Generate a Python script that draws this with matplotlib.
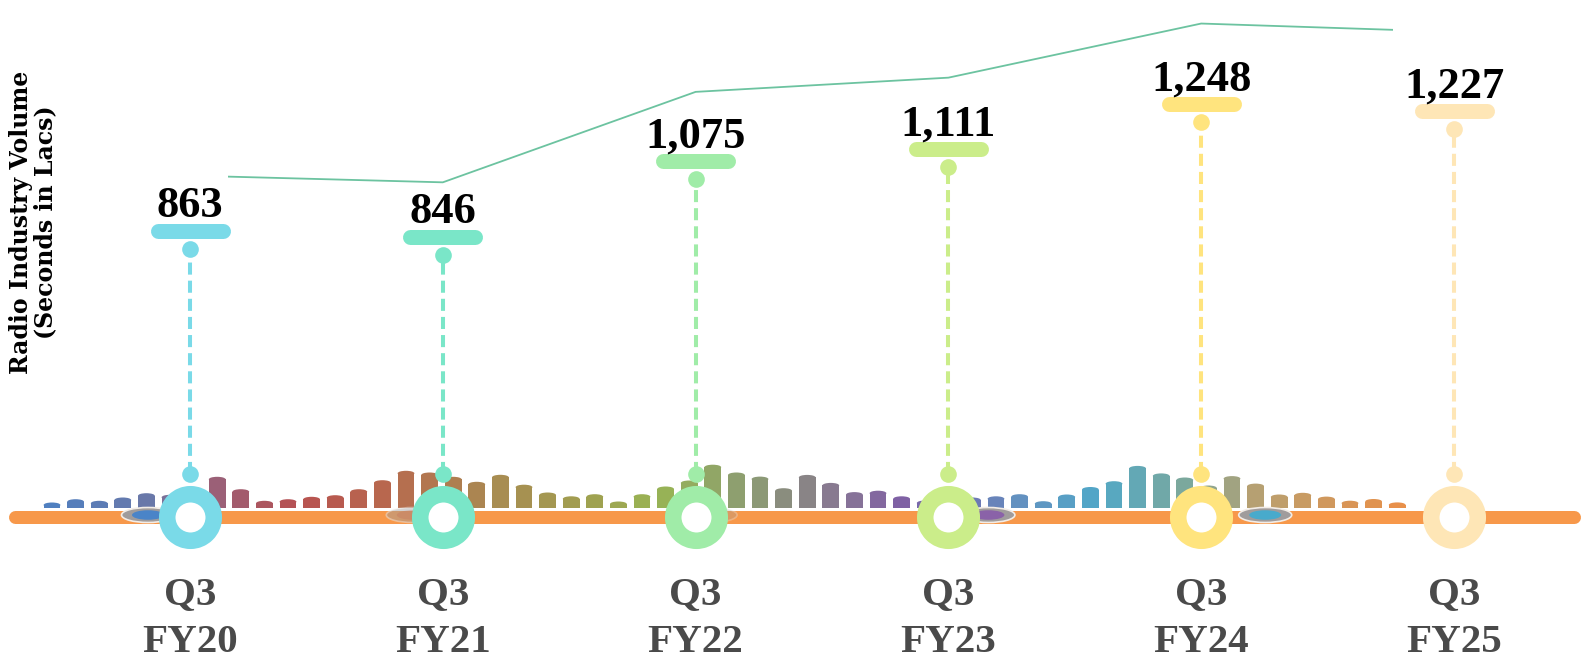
import numpy as np
import matplotlib
matplotlib.use("Agg")
import matplotlib.pyplot as plt
from matplotlib.patches import Ellipse, Rectangle
from matplotlib.colors import LinearSegmentedColormap

# ---------------- data ----------------
quarters = ["Q3", "Q3", "Q3", "Q3", "Q3", "Q3"]
fiscal_years = ["FY20", "FY21", "FY22", "FY23", "FY24", "FY25"]
volume = [863, 846, 1075, 1111, 1248, 1227]          # seconds in lacs
marker_colors = ["#7adae8", "#7ae6c8", "#a0eca8", "#cbed8a", "#ffe47e", "#fee6b6"]

# decorative equaliser strip along the timeline
eq_heights = [5, 8.3, 6.7, 10, 14.3, 12.7, 20, 30.7, 18.3, 6.7, 8.3, 10.7, 12.3, 18.3,
              27.3, 36.7, 35, 30.7, 25.7, 32.7, 22.8, 15, 11.2, 13.3, 6, 13.3, 21, 27,
              42.8, 35, 30.9, 19.3, 32.6, 24.6, 15.4, 16.8, 11.2, 7, 8, 10, 11.2, 13.3,
              6.3, 13, 20.5, 26.3, 41.6, 34.1, 30, 22, 31.4, 23.9, 13, 14.7, 10.9, 6.8,
              8.5, 5.1]
eq_palette = [(0.00, "#5080c0"), (0.07, "#6a78a8"), (0.12, "#9a6078"), (0.18, "#b85050"),
              (0.25, "#b86a4e"), (0.33, "#a88c52"), (0.40, "#a0a050"), (0.45, "#98b454"),
              (0.52, "#8c9c74"), (0.55, "#8a8a80"), (0.60, "#86709a"), (0.63, "#8060a4"),
              (0.67, "#7070b0"), (0.72, "#6490c0"), (0.78, "#50a8c8"), (0.84, "#78a8a0"),
              (0.90, "#b8a070"), (1.00, "#e8904a")]

ylabel = "Radio Industry Volume\n(Seconds in Lacs)"

# ---------------- layout ----------------
W, H = 1585, 661
BASE_PX = 516.5          # timeline height (pixels from top)
FIRST_PX, STEP_PX = 190, 252.8
VAL_SCALE = 0.3304       # pixels per unit of volume for the markers
LINE_SCALE = 0.395       # pixels per unit of volume for the trend line

SERIF = "Liberation Serif"

fig = plt.figure(figsize=(W / 100, H / 100), dpi=100)
fig.patch.set_facecolor("white")

# equaliser bars
n_eq = len(eq_heights)
eq_step, eq_first, eq_base = 23.6, 52, 507.5
ax_eq = fig.add_axes([(eq_first - eq_step / 2) / W, (H - eq_base) / H,
                      n_eq * eq_step / W, 60 / H])
ax_eq.set_xlim(-0.5, n_eq - 0.5)
ax_eq.set_ylim(0, 60)
ax_eq.axis("off")
cmap = LinearSegmentedColormap.from_list("eq", eq_palette)
eq_x = np.arange(n_eq)
eq_cols = [cmap(i / (n_eq - 1)) for i in eq_x]
cap = 5.0
bw = 0.71
ax_eq.bar(eq_x, np.array(eq_heights) - cap / 2, width=bw, color=eq_cols, linewidth=0)
for xi, h, c in zip(eq_x, eq_heights, eq_cols):
    ax_eq.add_patch(Ellipse((xi, h - cap / 2), bw, cap, color=c, lw=0))

# main axes: categories on x, volume on y with the timeline at zero
ax = fig.add_axes([0, 0, 1, 1])
ax.patch.set_alpha(0)
x_lo = -FIRST_PX / STEP_PX
x_hi = x_lo + W / STEP_PX
ax.set_xlim(x_lo, x_hi)
ax.set_ylim(-(H - BASE_PX) / VAL_SCALE, BASE_PX / VAL_SCALE)
ax.axis("off")
px_x = (x_hi - x_lo) / W
px_y = (ax.get_ylim()[1] - ax.get_ylim()[0]) / H

# timeline
ax.plot([14.5 / W, 1573.5 / W], [0, 0], transform=ax.get_yaxis_transform(),
        color="#f7984a", lw=13 * 0.72, solid_capstyle="round", zorder=2)

# glossy discs sitting on the timeline
disc_offsets_px = [-42, -30, 15, 40, 64]
disc_inner = ["#4a84c8", "#c87a60", "#d8b890", "#8a62a8", "#48aacc"]
disc_alpha = [1.0, 0.45, 0.3, 1.0, 1.0]
for k, (off, col, a) in enumerate(zip(disc_offsets_px, disc_inner, disc_alpha)):
    cx = k + off * px_x
    cy = 1.5 * px_y
    ax.add_patch(Ellipse((cx, cy), 53 * px_x, 15 * px_y, facecolor="#a09c9c",
                         edgecolor="#f2ece6", lw=1.2, alpha=a, zorder=3))
    ax.add_patch(Ellipse((cx, cy), 32 * px_x, 9.5 * px_y, facecolor=col,
                         lw=0, alpha=a, zorder=3))

cat_x = np.arange(len(volume))
for i, (v, c) in enumerate(zip(volume, marker_colors)):
    half = 32.5 * px_x
    # pill holding the value
    ax.plot([i - half, i + half], [v, v], color=c, lw=15 * 0.72,
            solid_capstyle="round", zorder=4)
    top_dot = v - 18 * px_y
    bot_dot = 43 * px_y
    ax.plot([i, i], [bot_dot, top_dot], color=c, lw=2.9, dashes=(3, 1.5), zorder=3)
    ax.plot([i, i], [bot_dot, top_dot], "o", color=c, ms=12, mew=0, zorder=4)
    # ring on the timeline
    ax.plot(i, 0, "o", ms=33.5, mew=11.9, mfc="white", mec=c, zorder=6)
    ax.annotate(f"{v:,}", (i, v), xytext=(0, 10), textcoords="offset points",
                ha="center", va="baseline", fontsize=32, fontweight="bold",
                family=SERIF, color="black", zorder=7)
    ax.annotate(quarters[i], (i, 0), xytext=(0, -63), textcoords="offset points",
                ha="center", va="baseline", fontsize=29.5, fontweight="bold",
                family=SERIF, color="#4a4a4a")
    ax.annotate(fiscal_years[i], (i, 0), xytext=(0, -97.6), textcoords="offset points",
                ha="center", va="baseline", fontsize=29.5, fontweight="bold",
                family=SERIF, color="#4a4a4a")

# trend line on its own scale above the markers
ax_t = ax.twinx()
ax_t.set_ylim(-(H - BASE_PX) / LINE_SCALE, BASE_PX / LINE_SCALE)
ax_t.axis("off")
trend, = ax_t.plot(cat_x, volume, color="#6cc3a0", lw=1.3, zorder=1)
clip = Rectangle((0.15, ax_t.get_ylim()[0]), 4.76 - 0.15,
                 ax_t.get_ylim()[1] - ax_t.get_ylim()[0], transform=ax_t.transData)
trend.set_clip_path(clip)

fig.text(33 / W, 1 - 222 / H, ylabel, rotation=90, ha="center", va="center",
         multialignment="center", fontsize=17, fontweight="bold",
         family="DejaVu Serif", linespacing=0.98)

fig.savefig("out.png", dpi=100, facecolor="white")
